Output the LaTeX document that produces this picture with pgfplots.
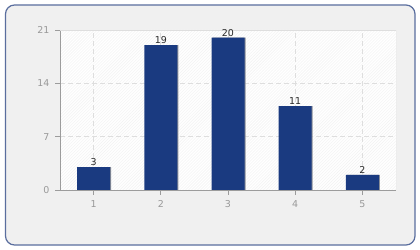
\documentclass[border=0pt]{standalone}
\usepackage{fontspec}
\setmainfont{DejaVu Sans}
\usepackage{pgfplots}
\pgfplotsset{compat=1.18}
\usetikzlibrary{patterns}
\definecolor{barblue}{HTML}{1A3A80}
\definecolor{barshadow}{HTML}{8A8E98}
\definecolor{framebg}{HTML}{F0F0F0}
\definecolor{frameline}{HTML}{5A6E9E}
\definecolor{ticktext}{HTML}{999999}
\definecolor{axisgray}{HTML}{9C9C9C}
\definecolor{gridgray}{HTML}{DEDEDE}
\definecolor{hatch}{HTML}{F2F2F2}
\definecolor{valtext}{HTML}{2A2A2A}

\begin{document}
\begin{tikzpicture}[x=1bp,y=1bp]
\useasboundingbox (0,0) rectangle (420,250);
\fill[white] (0,0) rectangle (420,250);
% panel behind the chart
\draw[frameline, line width=1.2bp, fill=framebg, rounded corners=9bp] (5.5,5) rectangle (415,245);
\begin{axis}[
  at={(60bp,60bp)}, anchor=south west,
  scale only axis, width=336bp, height=160bp,
  xmin=0.5, xmax=5.5, ymin=0, ymax=21,
  xtick={1,...,5}, ytick={0,7,14,21},
  axis x line*=bottom, axis y line*=left,
  axis line style={-, axisgray, line width=0.9bp},
  tick style={axisgray, line width=0.9bp},
  major tick length=5bp,
  tick align=outside,
  grid=major,
  major grid style={gridgray, line width=0.9bp, dash pattern=on 5bp off 3bp},
  axis background/.style={fill=white, postaction={pattern=north east lines, pattern color=hatch}},
  ticklabel style={font=\fontsize{9.5}{11}\selectfont, text=ticktext},
  yticklabel style={xshift=-2bp},
  xticklabel style={yshift=-2bp},
  /pgf/number format/assume math mode=true,
]
% thin shadow on the right side of each bar
\addplot[ybar, bar width=33bp, bar shift=1bp, fill=barshadow, draw=none]
  coordinates {(1,3) (2,19) (3,20) (4,11) (5,2)};
\addplot[ybar, bar width=33bp, bar shift=0bp, fill=barblue, draw=none,
  nodes near coords,
  every node near coord/.append style={font=\fontsize{9.5}{11}\selectfont, text=valtext, inner sep=1.2bp}]
  coordinates {(1,3) (2,19) (3,20) (4,11) (5,2)};
\draw[gridgray, line width=0.9bp] (rel axis cs:0,1) -- (rel axis cs:1,1) -- (rel axis cs:1,0);
\end{axis}
\end{tikzpicture}
\end{document}
